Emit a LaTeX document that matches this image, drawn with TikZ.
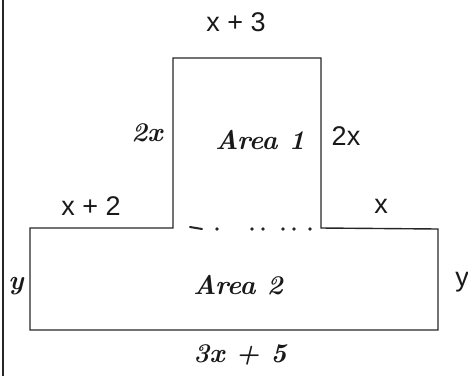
\documentclass[tikz,border=0pt]{standalone}
\usepackage{fontspec}
\setsansfont{Liberation Sans}
\begin{document}
\begin{tikzpicture}[
        x=1pt, y=-1pt,
        % Umriss der zusammengesetzten Figur
        outline/.style={line width=1.4pt, black!85, line join=miter},
        printed/.style={font=\sffamily\fontsize{27}{32}\selectfont, text=black!90},
        hand/.style={font=\bfseries\itshape\fontsize{27}{32}\selectfont, text=black!90}
    ]
    \useasboundingbox (0,0) rectangle (468,376);
    % linker Rand
    \draw[line width=2pt, black!85] (3,0) -- (3,376);

    \coordinate (bl) at (30,330);
    \coordinate (br) at (438,330);
    \coordinate (tl) at (173,58);
    \coordinate (tr) at (321,58);
    \draw[outline] (30,228) -- (tl |- 0,228) -- (tl) -- (tr) -- (tr |- 0,228)
        -- (br |- 0,229) -- (br) -- (bl) -- cycle;
    % gestrichelte Trennlinie zwischen den Flaechen
    \draw[line width=2pt, black!85, line cap=round] (190,227) -- (202,229);
    \foreach \px in {217,252,263,283,294,310}
        \fill[black!85] (\px,229) circle (1.8pt);

    \node[printed] (top) at (236,22) {x + 3};
    \node[hand] (leftside) at (147,133) {2x};
    \node[hand] (area1) at (260,140) {Area 1};
    \node[printed] (rightside) at (346,136) {2x};
    \node[printed] (leftstep) at (91,206) {x + 2};
    \node[printed] (rightstep) at (381,206) {x};
    \node[hand] (lefty) at (16,286) {y};
    \node[hand] (area2) at (238,285) {Area 2};
    \node[printed] (righty) at (462,282) {y};
    \node[hand] (bottom) at (240,355) {3x + 5};
\end{tikzpicture}
\end{document}
